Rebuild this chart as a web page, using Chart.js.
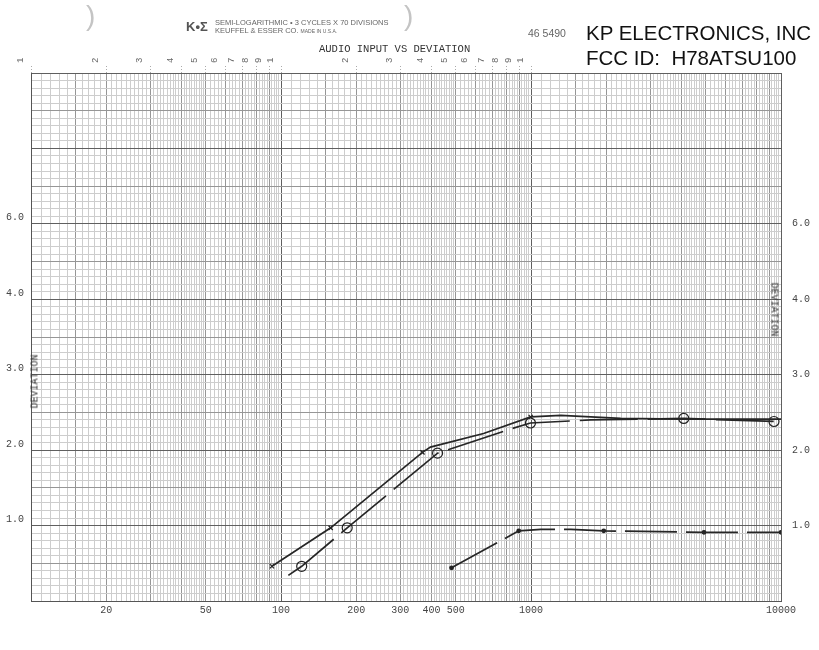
<!DOCTYPE html>
<html>
<head>
<meta charset="utf-8">
<script src="https://cdn.jsdelivr.net/npm/chart.js@4.4.1/dist/chart.umd.min.js"></script>
<style>
  body { margin: 0; background: #fff; }
  #wrap { position: relative; width: 819px; height: 650px; }
  .txt { position: absolute; white-space: nowrap; line-height: 1; }
  .mono { font-family: "Liberation Mono", "DejaVu Sans Mono", monospace; color: #333; }
  .sans { font-family: "Liberation Sans", Arial, sans-serif; }
</style>
</head>
<body>
<div id="wrap">
  <canvas id="grafico"></canvas>

  <div class="txt sans" style="left:86px;top:2px;font-size:28px;color:#c4c4c4;">)</div>
  <div class="txt sans" style="left:404px;top:2px;font-size:28px;color:#c4c4c4;">)</div>

  <div class="txt sans" style="left:186px;top:20px;font-size:13px;font-weight:bold;color:#555;">K•Σ</div>
  <div class="txt sans" style="left:215px;top:19px;font-size:7.5px;color:#666;">SEMI-LOGARITHMIC • 3 CYCLES X 70 DIVISIONS</div>
  <div class="txt sans" style="left:215px;top:27px;font-size:7.5px;color:#666;">KEUFFEL &amp; ESSER CO. <span style="font-size:5px;">MADE IN U.S.A.</span></div>
  <div class="txt sans" style="left:528px;top:28px;font-size:10.5px;color:#666;">46 5490</div>

  <div class="txt sans" style="left:586px;top:22.6px;font-size:20.5px;color:#111;">KP ELECTRONICS, INC</div>
  <div class="txt sans" style="left:586px;top:47.6px;font-size:20.5px;color:#111;">FCC ID:&nbsp; H78ATSU100</div>

  <div class="txt mono" style="left:319px;top:44px;font-size:10.5px;">AUDIO INPUT VS DEVIATION</div>

  <div class="txt mono" style="left:8px;top:376px;width:55px;font-size:10px;transform:rotate(-90deg);">DEVIATION</div>
  <div class="txt mono" style="left:746px;top:305px;width:55px;font-size:10px;transform:rotate(90deg);">DEVIATION</div>
</div>

<script>
// ================= DADOS =================
// curva 1 (linha cheia, marcas em x)
const s1Freq = [92, 158, 368, 396, 646, 997, 1315, 2285, 4083, 10000];
const s1Desvio = [0.46, 0.97, 1.97, 2.04, 2.22, 2.44, 2.46, 2.42, 2.41, 2.41];
const s1MarcaFreq = [92, 158, 368, 997];
const s1MarcaDesvio = [0.46, 0.97, 1.97, 2.44];

// curva 2 (tracejada, circulos)
const s2Freq = [107, 121, 184, 423, 829, 995, 1734, 4083, 9374];
const s2Desvio = [0.34, 0.46, 0.97, 1.96, 2.28, 2.36, 2.40, 2.42, 2.38];
const s2MarcaFreq = [121, 184, 423, 995, 4083, 9374];
const s2MarcaDesvio = [0.46, 0.97, 1.96, 2.36, 2.42, 2.38];

// curva 3 (tracejada baixa, pontos)
const s3Freq = [481, 893, 1095, 1443, 1954, 4920, 10000];
const s3Desvio = [0.44, 0.93, 0.95, 0.95, 0.93, 0.91, 0.91];
const s3MarcaFreq = [481, 893, 1954, 4920, 10000];
const s3MarcaDesvio = [0.44, 0.93, 0.93, 0.91, 0.91];

// rotulos dos eixos
const xTickValores = [20, 50, 100, 200, 300, 400, 500, 1000, 10000];
const xTickTextos = ["20", "50", "100", "200", "300", "400", "500", "1000", "10000"];
const topoTickValores = [10, 20, 30, 40, 50, 60, 70, 80, 90, 100, 200, 300, 400, 500, 600, 700, 800, 900, 1000];
const topoTickTextos = ["1", "2", "3", "4", "5", "6", "7", "8", "9", "1", "2", "3", "4", "5", "6", "7", "8", "9", "1"];
const yTickValores = [1, 2, 3, 4, 5];
const yTickTextos = ["1.0", "2.0", "3.0", "4.0", "6.0"];

// ================= AUXILIARES =================
const pontos = (xs, ys) => xs.map((x, i) => ({ x: x, y: ys[i] }));

const acharRotulo = (valores, textos, v) => {
  const i = valores.findIndex(a => Math.abs(a - v) < a * 1e-6);
  return i >= 0 ? textos[i] : "";
};

// grade do papel semi-log
const gradeX = [];
[10, 100, 1000].forEach(d => {
  for (let i = 10; i < 50; i++) gradeX.push({ value: d * i / 10, nivel: i === 10 ? 2 : (i % 10 === 0 || i === 15 ? 1 : 0) });
  for (let i = 50; i < 100; i += 2) gradeX.push({ value: d * i / 10, nivel: i % 10 === 0 ? 1 : 0 });
});
gradeX.push({ value: 10000, nivel: 2 });

const gradeY = [];
for (let i = 0; i <= 70; i++) gradeY.push({ value: i / 10, nivel: i % 10 === 0 ? 2 : (i % 5 === 0 ? 1 : 0) });

const corGrade = ["#cdcdcd", "#969696", "#5f5f5f"];
const fonteTick = { family: "'Liberation Mono', 'DejaVu Sans Mono', monospace", size: 10 };

const linha = (dados, dash) => ({
  data: dados,
  borderColor: "#262626",
  borderWidth: 1.7,
  borderDash: dash,
  pointRadius: 0,
  tension: 0,
  fill: false
});

const marcas = (dados, estilo, raio, fundo) => ({
  data: dados,
  showLine: false,
  pointStyle: estilo,
  pointRadius: raio,
  pointBorderWidth: 1.2,
  pointBorderColor: "#222",
  pointBackgroundColor: fundo
});

// ================= GRAFICO =================
new Chart(document.getElementById("grafico"), {
  type: "line",
  data: {
    datasets: [
      linha(pontos(s1Freq, s1Desvio), []),
      linha(pontos(s2Freq, s2Desvio), [58, 10]),
      linha(pontos(s3Freq, s3Desvio), [52, 9]),
      marcas(pontos(s1MarcaFreq, s1MarcaDesvio), "crossRot", 3, "#222"),
      marcas(pontos(s2MarcaFreq, s2MarcaDesvio), "circle", 5, "rgba(0,0,0,0)"),
      marcas(pontos(s3MarcaFreq, s3MarcaDesvio), "circle", 1.8, "#222")
    ]
  },
  options: {
    responsive: true,
    maintainAspectRatio: false,
    animation: false,
    layout: { padding: 0 },
    plugins: { legend: { display: false }, tooltip: { enabled: false } },
    scales: {
      x: {
        type: "logarithmic",
        position: "bottom",
        min: 10,
        max: 10000,
        afterBuildTicks: s => { s.ticks = gradeX.map(t => ({ value: t.value, nivel: t.nivel })); },
        afterFit: s => { s.height = 49; },
        grid: {
          color: c => corGrade[c.tick ? c.tick.nivel : 0],
          lineWidth: 1,
          drawTicks: false
        },
        border: { color: "#555" },
        ticks: {
          autoSkip: false,
          maxRotation: 0,
          minRotation: 0,
          padding: 3,
          color: "#444",
          font: fonteTick,
          callback: v => acharRotulo(xTickValores, xTickTextos, v)
        }
      },
      xTopo: {
        type: "logarithmic",
        position: "top",
        min: 10,
        max: 10000,
        afterBuildTicks: s => { s.ticks = topoTickValores.map(v => ({ value: v })); },
        afterFit: s => { s.height = 73; },
        grid: {
          drawOnChartArea: false,
          drawTicks: true,
          tickLength: 7,
          tickColor: "#aaa",
          tickBorderDash: [1, 2]
        },
        border: { display: false },
        ticks: {
          autoSkip: false,
          maxRotation: 90,
          minRotation: 90,
          padding: 3,
          color: "#666",
          font: { family: "'Liberation Mono', monospace", size: 9 },
          callback: v => acharRotulo(topoTickValores, topoTickTextos, v)
        }
      },
      y: {
        type: "linear",
        position: "left",
        min: 0,
        max: 7,
        afterBuildTicks: s => { s.ticks = gradeY.map(t => ({ value: t.value, nivel: t.nivel })); },
        afterFit: s => { s.width = 31; },
        grid: {
          color: c => corGrade[c.tick ? c.tick.nivel : 0],
          lineWidth: 1,
          drawTicks: false
        },
        border: { color: "#555" },
        ticks: {
          autoSkip: false,
          padding: 7,
          color: "#444",
          font: fonteTick,
          callback: v => {
            const r = acharRotulo(yTickValores, yTickTextos, v);
            return r ? [r, ""] : "";
          }
        }
      },
      yDireita: {
        type: "linear",
        position: "right",
        min: 0,
        max: 7,
        afterBuildTicks: s => { s.ticks = yTickValores.map(v => ({ value: v })); },
        afterFit: s => { s.width = 38; },
        grid: { display: false, drawTicks: false },
        border: { display: false },
        ticks: {
          autoSkip: false,
          padding: 11,
          color: "#444",
          font: fonteTick,
          callback: v => acharRotulo(yTickValores, yTickTextos, v)
        }
      }
    }
  }
});
</script>
</body>
</html>
